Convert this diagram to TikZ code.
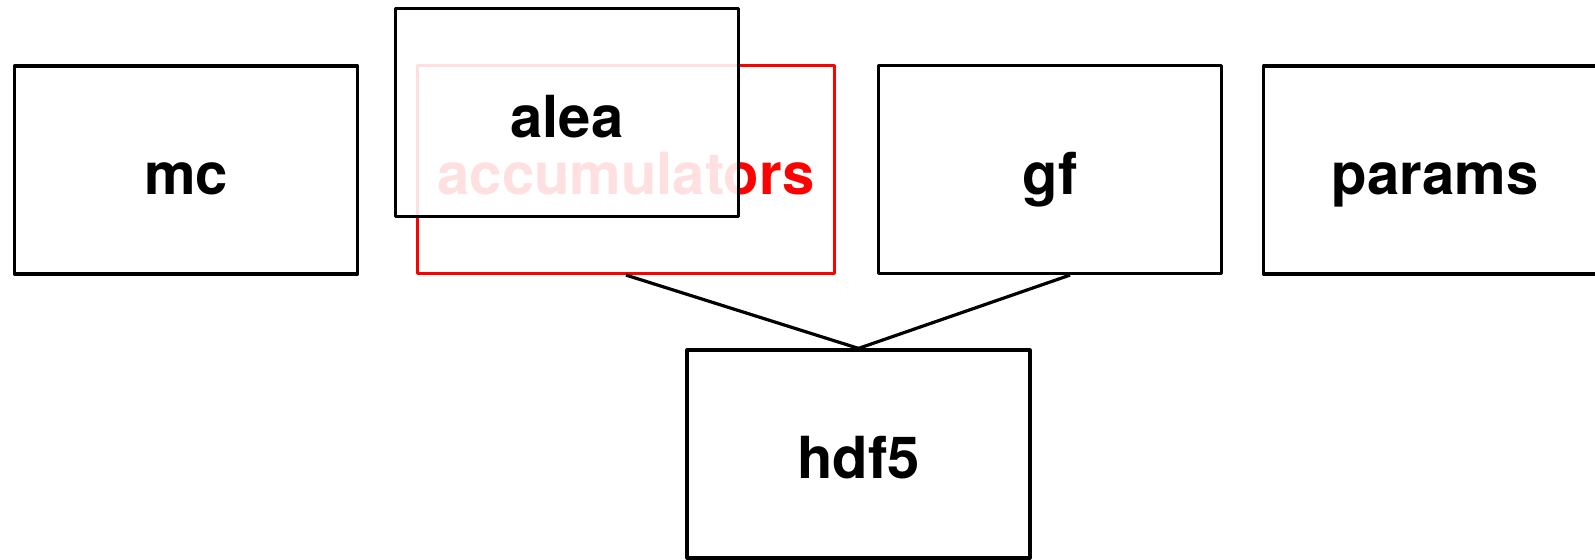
\documentclass[tikz,border=0pt]{standalone}
\usepackage{fontspec}
\setmainfont{TeX Gyre Heros}
\usetikzlibrary{calc}
\begin{document}
\begin{tikzpicture}[x=0.5pt,y=-0.5pt,
  modbox/.style={draw=black, line width=1.6pt, line join=round, rectangle,
    minimum width=171.5pt, minimum height=104pt, inner sep=0pt,
    text height=25pt, text depth=0pt,
    font=\fontsize{29}{34}\selectfont\bfseries},
  redbox/.style={modbox, draw=red, text=red, minimum width=208.5pt},
  coverbox/.style={modbox, fill=white, fill opacity=0.88, text opacity=1},
  link/.style={draw=black, line width=1.6pt}]
  \useasboundingbox (0,0) rectangle (1595,560);

  % modules along the top row
  \node[modbox]   (mc)     at (186,170)    {mc};
  \node[redbox]   (acc)    at (626,169.5)  {accumulators};
  \node[coverbox] (alea)   at (567,112.5)  {alea};
  \node[modbox]   (gf)     at (1050,169.5) {gf};
  \node[modbox]   (params) at (1435,170)   {params};

  % storage module below
  \node[modbox]   (hdf5)   at (858.5,454)  {hdf5};

  % dependencies
  \coordinate (gfout) at ($(gf.south)+(20,0)$);
  \draw[link] (acc.south) -- (hdf5.north);
  \draw[link] (gfout) -- (hdf5.north);
\end{tikzpicture}
\end{document}
